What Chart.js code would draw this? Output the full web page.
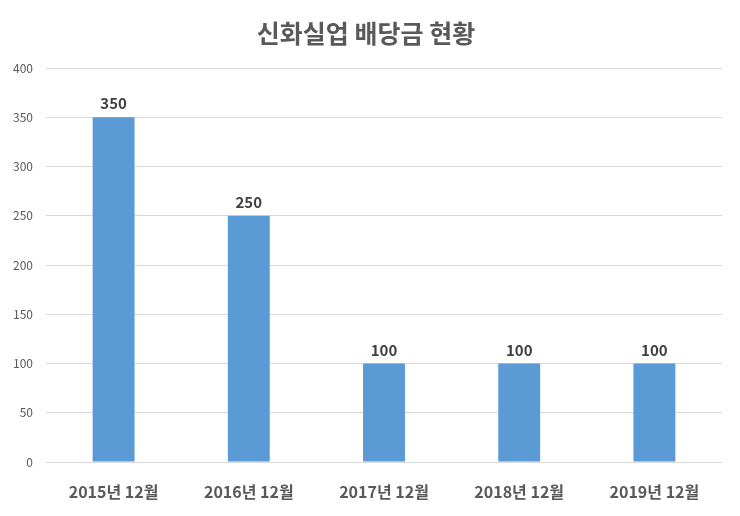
<!DOCTYPE html>
<html>
<head>
<meta charset="utf-8">
<script src="https://cdn.jsdelivr.net/npm/chart.js@4"></script>
<style>
html,body{margin:0;padding:0;background:#fff;}
#wrap{width:740px;height:516px;}
</style>
</head>
<body>
<div id="wrap"><canvas id="c" width="740" height="516"></canvas></div>
<script>
const categories = ["2015년 12월", "2016년 12월", "2017년 12월", "2018년 12월", "2019년 12월"];
const dividends = [350, 250, 100, 100, 100];
const yTicks = [0, 50, 100, 150, 200, 250, 300, 350, 400];
const titleText = "신화실업 배당금 현황";

const FONT = '"Noto Sans CJK KR", "Noto Sans", sans-serif';

const labelPlugin = {
  id: 'barLabels',
  afterDatasetsDraw(chart) {
    const ctx = chart.ctx;
    const meta = chart.getDatasetMeta(0);
    ctx.save();
    ctx.font = 'bold 15px ' + FONT;
    ctx.fillStyle = '#404040';
    ctx.textAlign = 'center';
    ctx.textBaseline = 'bottom';
    meta.data.forEach((bar, i) => {
      ctx.fillText(String(dividends[i]), bar.x, bar.y - 6);
    });
    ctx.restore();
  }
};

new Chart(document.getElementById('c'), {
  type: 'bar',
  data: {
    labels: categories,
    datasets: [{
      data: dividends,
      backgroundColor: '#5B9BD5',
      borderWidth: 0,
      categoryPercentage: 1,
      barPercentage: 0.31
    }]
  },
  options: {
    responsive: false,
    animation: false,
    devicePixelRatio: 1,
    layout: { padding: { left: 10, right: 18, top: 0, bottom: 0 } },
    plugins: {
      legend: { display: false },
      tooltip: { enabled: false },
      title: {
        display: true,
        text: titleText,
        color: '#595959',
        font: { family: FONT, size: 25, weight: 'bold' },
        padding: { top: 18, bottom: 20 }
      }
    },
    scales: {
      x: {
        grid: { display: false },
        border: { display: false },
        ticks: {
          color: '#595959',
          font: { family: FONT, size: 16, weight: 'bold' },
          padding: 12,
          maxRotation: 0
        },
        afterFit(scale) { scale.height = 54; }
      },
      y: {
        min: 0,
        max: 400,
        afterBuildTicks(scale) { scale.ticks = yTicks.map(v => ({ value: v })); },
        grid: { color: '#d9d9d9', drawTicks: false, lineWidth: 1 },
        border: { display: false },
        ticks: {
          color: '#595959',
          font: { family: FONT, size: 12 },
          padding: 13
        },
        afterFit(scale) { scale.width = 36; }
      }
    }
  },
  plugins: [labelPlugin]
});
</script>
</body>
</html>
